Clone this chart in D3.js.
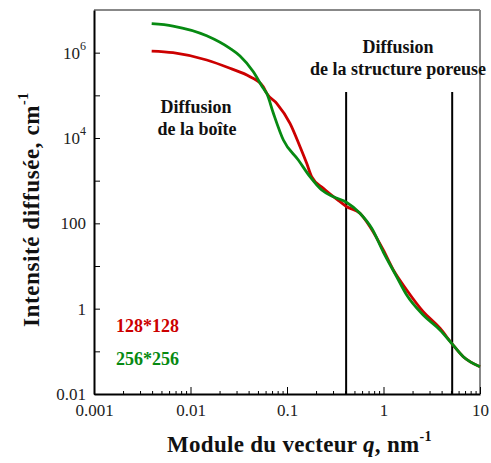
<!DOCTYPE html>
<html>
<head>
<meta charset="utf-8">
<script src="https://cdn.jsdelivr.net/npm/d3@7"></script>
<style>
  body { margin: 0; background: #fff; }
  svg { display: block; }
  svg text { font-family: "Liberation Serif", "DejaVu Serif", serif !important; }
</style>
</head>
<body>
<div id="chart"></div>
<script>
// ---- data ----
const qRed = [0.00396, 0.00659, 0.01472, 0.02564, 0.0414, 0.0568, 0.0617, 0.0782, 0.1074, 0.1365, 0.160, 0.180, 0.238, 0.354, 0.416, 0.570, 0.724, 0.995, 1.265, 1.74, 2.58, 3.85, 5.09, 6.71, 10];
const iRed = [1.09e6, 1.0e6, 6.73e5, 4.30e5, 2.73e5, 1.59e5, 1.11e5, 6.5e4, 2.21e4, 6.25e3, 2.55e3, 1.24e3, 662, 321, 245, 172, 83.4, 23.7, 8.05, 2.74, 0.85, 0.347, 0.154, 0.0748, 0.0437];
const qGreen = [0.00396, 0.00659, 0.01472, 0.02564, 0.0326, 0.0448, 0.0568, 0.0617, 0.0721, 0.0917, 0.131, 0.173, 0.229, 0.302, 0.416, 0.570, 0.755, 0.995, 1.37, 1.74, 2.58, 3.85, 5.09, 6.71, 10];
const iGreen = [4.77e6, 4.21e6, 2.49e6, 1.26e6, 8.35e5, 3.57e5, 1.46e5, 1.11e5, 3.85e4, 8.97e3, 3.05e3, 1.24e3, 604, 421, 308, 172, 76.4, 21.3, 5.61, 2.09, 0.71, 0.316, 0.154, 0.0748, 0.0437];
const seriesNames = ["128*128", "256*256"];
const xTickValues = [0.001, 0.01, 0.1, 1, 10];
const xTickLabels = ["0.001", "0.01", "0.1", "1", "10"];
const yTickValues = [0.01, 1, 100, 1e4, 1e6];
const yTickLabels = [["0.01", ""], ["1", ""], ["100", ""], ["10", "4"], ["10", "6"]];
const yMinorValues = [0.1, 10, 1000, 1e5];
const boundaryQ = [0.41, 5.15];
const boundaryTopI = 1.2e5;

// ---- layout ----
const W = 491, H = 463;
const margin = { top: 10, right: 11, bottom: 69, left: 94 };
const svg = d3.select("#chart").append("svg").attr("width", W).attr("height", H)
  .attr("font-family", "'Liberation Serif', serif");

const x = d3.scaleLog().domain([0.001, 10]).range([margin.left, W - margin.right]);
const y = d3.scaleLog().domain([0.01, 1e7]).range([H - margin.bottom, margin.top]);

const x0 = margin.left, x1 = W - margin.right, y0 = H - margin.bottom, y1 = margin.top;

// top & right border (gray)
svg.append("line").attr("x1", x0).attr("x2", x1).attr("y1", y1).attr("y2", y1).attr("stroke", "#888").attr("stroke-width", 2);
svg.append("line").attr("x1", x1).attr("x2", x1).attr("y1", y1).attr("y2", y0).attr("stroke", "#888").attr("stroke-width", 2);

// minor x ticks
const xMinor = [];
for (let d = -3; d < 1; d++) for (let k = 2; k <= 9; k++) xMinor.push(k * Math.pow(10, d));
svg.append("g").attr("transform", `translate(0,${y0})`)
  .call(d3.axisBottom(x).tickValues(xMinor).tickSize(-3).tickFormat(""))
  .call(g => g.select(".domain").remove())
  .call(g => g.selectAll("line").attr("stroke", "#000").attr("stroke-width", 1));

// major x axis
svg.append("g").attr("transform", `translate(0,${y0})`)
  .call(d3.axisBottom(x).tickValues(xTickValues).tickSize(-7).tickSizeOuter(0).tickPadding(10)
    .tickFormat((d, i) => xTickLabels[i]))
  .call(g => g.attr("font-family", null))
  .call(g => g.select(".domain").attr("stroke", "#000").attr("stroke-width", 2))
  .call(g => g.selectAll(".tick line").attr("stroke", "#000").attr("stroke-width", 1))
  .call(g => g.selectAll("text").attr("font-size", 17).attr("fill", "#222"));

// minor y ticks
svg.append("g").attr("transform", `translate(${x0},0)`)
  .call(d3.axisLeft(y).tickValues(yMinorValues).tickSize(-6).tickFormat(""))
  .call(g => g.select(".domain").remove())
  .call(g => g.selectAll("line").attr("stroke", "#000").attr("stroke-width", 1));

// major y axis
const gy = svg.append("g").attr("transform", `translate(${x0},0)`)
  .call(d3.axisLeft(y).tickValues(yTickValues).tickSize(-6).tickSizeOuter(0).tickPadding(8).tickFormat(""))
  .call(g => g.attr("font-family", null))
  .call(g => g.select(".domain").attr("stroke", "#000").attr("stroke-width", 2))
  .call(g => g.selectAll(".tick line").attr("stroke", "#000").attr("stroke-width", 1));
gy.selectAll(".tick text").each(function (d, i) {
  const t = d3.select(this).attr("font-size", 17).attr("fill", "#222").attr("dy", "0.32em");
  const lab = yTickLabels[i];
  t.append("tspan").text(lab[0]);
  if (lab[1]) t.append("tspan").attr("font-size", 12).attr("dy", "-0.75em").text(lab[1]);
});

// boundary vertical lines
svg.append("g").selectAll("line").data(boundaryQ).join("line")
  .attr("x1", d => x(d)).attr("x2", d => x(d))
  .attr("y1", y(boundaryTopI)).attr("y2", y0)
  .attr("stroke", "#000").attr("stroke-width", 2);

// curves
const line = d3.line().x(d => x(d[0])).y(d => y(d[1])).curve(d3.curveMonotoneX);
const redData = qRed.map((q, i) => [q, iRed[i]]);
const greenData = qGreen.map((q, i) => [q, iGreen[i]]);
svg.append("path").datum(redData).attr("d", line).attr("fill", "none")
  .attr("stroke", "#cc0000").attr("stroke-width", 2.8).attr("stroke-linejoin", "round");
svg.append("path").datum(greenData).attr("d", line).attr("fill", "none")
  .attr("stroke", "#078a12").attr("stroke-width", 2.8).attr("stroke-linejoin", "round");

// legend texts
const legendColors = ["#cc0000", "#078a12"];
svg.append("g").selectAll("text").data(seriesNames).join("text")
  .attr("x", 116).attr("y", (d, i) => 332 + i * 33)
  .attr("font-size", 18).attr("font-weight", "bold")
  .attr("fill", (d, i) => legendColors[i]).text(d => d);

// annotations
const ann = svg.append("g").attr("font-size", 18).attr("font-weight", "bold").attr("fill", "#111").attr("text-anchor", "middle");
ann.append("text").attr("x", 196).attr("y", 113).text("Diffusion");
ann.append("text").attr("x", 197).attr("y", 135).text("de la boîte");
ann.append("text").attr("x", 398).attr("y", 53).text("Diffusion");
ann.append("text").attr("x", 398).attr("y", 75).text("de la structure poreuse");

// axis titles
const xt = svg.append("text").attr("x", 167).attr("y", 452).attr("text-anchor", "start")
  .attr("font-size", 23).attr("letter-spacing", 0.3).attr("font-weight", "bold").attr("fill", "#111");
xt.append("tspan").text("Module du vecteur ");
xt.append("tspan").attr("font-style", "italic").text("q");
xt.append("tspan").text(", nm");
xt.append("tspan").attr("font-size", 14).attr("dy", "-0.8em").text("-1");

const yt = svg.append("text").attr("transform", "translate(39,327) rotate(-90)").attr("text-anchor", "start")
  .attr("font-size", 23).attr("letter-spacing", 0.6).attr("font-weight", "bold").attr("fill", "#111");
yt.append("tspan").text("Intensité diffusée, cm");
yt.append("tspan").attr("font-size", 14).attr("dy", "-0.8em").text("-1");
</script>
</body>
</html>
